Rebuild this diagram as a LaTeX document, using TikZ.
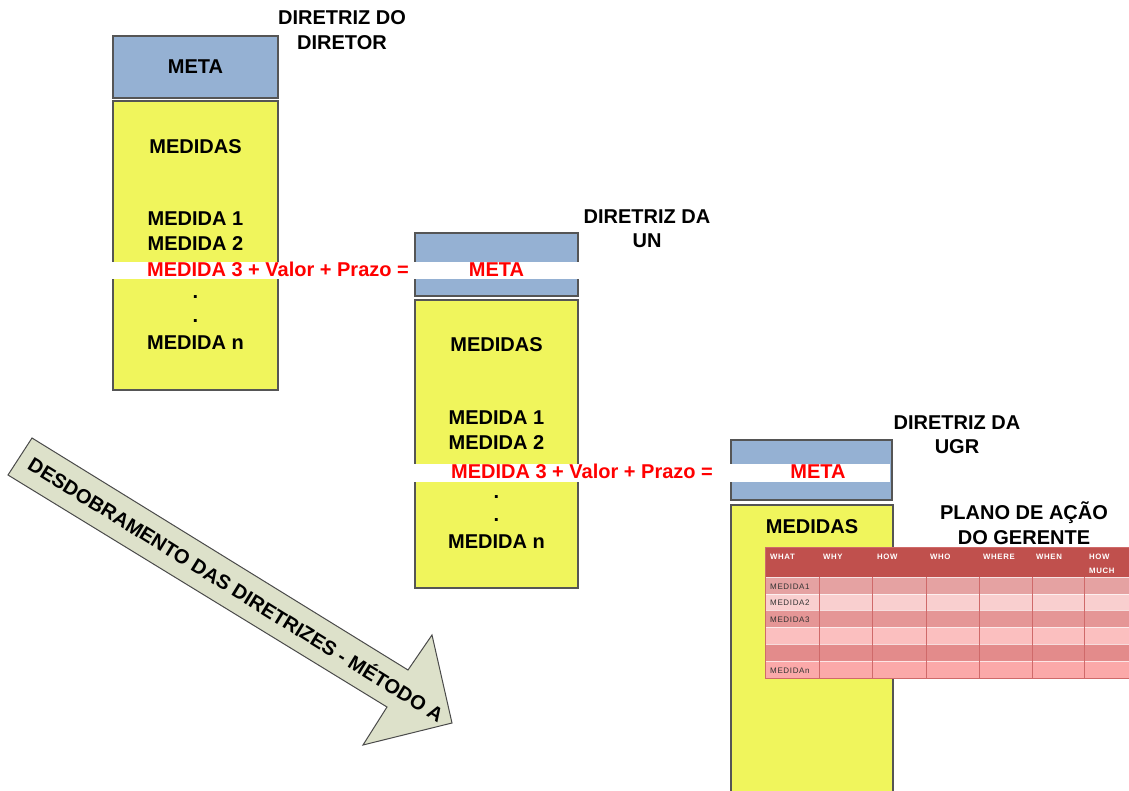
\documentclass[tikz,border=0pt]{standalone}
\usepackage{fontspec}
\setmainfont{Liberation Sans}
\newfontfamily\tabfont[LetterSpace=8]{Liberation Sans}
\newcommand\mybig{\fontsize{20}{24}\selectfont\bfseries}
\definecolor{metablue}{HTML}{95B1D3}
\definecolor{medyellow}{HTML}{F0F55C}
\definecolor{boxline}{HTML}{555555}
\definecolor{arrowfill}{HTML}{DDE1CA}
\definecolor{arrowline}{HTML}{4A4A4A}
\definecolor{hdrred}{HTML}{C0504D}
\definecolor{rowA}{HTML}{E5A2A2}
\definecolor{rowB}{HTML}{F9CFCF}
\definecolor{rowC}{HTML}{E59696}
\definecolor{rowD}{HTML}{FBBFBF}
\definecolor{rowE}{HTML}{E38B8B}
\definecolor{rowF}{HTML}{FBA9A9}
\definecolor{gridred}{HTML}{CF6A6A}
\definecolor{tabtext}{HTML}{333333}
\begin{document}
\begin{tikzpicture}[x=1pt,y=-1pt,
  box/.style={draw=boxline, line width=1.3pt, rectangle, inner sep=0pt},
  metabox/.style={box, fill=metablue, font=\mybig},
  medbox/.style={box, fill=medyellow},
  lbl/.style={font=\mybig, inner sep=0pt, anchor=base},
  redlbl/.style={lbl, text=red},
  strip/.style={fill=white, draw=none},
  arrowshape/.style={draw=arrowline, line width=1pt, fill=arrowfill, line join=miter},
  hdr/.style={font=\tabfont\fontsize{7.8}{9}\selectfont\bfseries, text=white, inner sep=0pt, anchor=base west},
  cell/.style={font=\tabfont\fontsize{8}{9}\selectfont, text=tabtext, inner sep=0pt, anchor=base west}
]
\useasboundingbox (0,0) rectangle (1129,791);
\clip (0,0) rectangle (1129,791);

% --- Diretriz do diretor ---
\node[metabox, minimum width=165pt, minimum height=62pt] (meta1) at (195.5,67) {META};
\node[medbox, minimum width=165pt, minimum height=289pt] (med1) at (195.5,245.5) {};

% --- Diretriz da UN ---
\node[metabox, minimum width=163pt, minimum height=63pt] (meta2) at (496.5,264.5) {};
\node[medbox, minimum width=163pt, minimum height=288pt] (med2) at (496.5,444) {};

% --- Diretriz da UGR ---
\node[metabox, minimum width=161pt, minimum height=60pt] (meta3) at (811.5,470) {};
\node[medbox, minimum width=162pt, minimum height=300pt] (med3) at (812,655) {};

% white bands carrying the "medida + valor + prazo = meta" lines
\fill[strip] (111,262) rectangle (579.5,279);
\fill[strip] (410,464) rectangle (890,482);

% titles
\node[lbl] (t1a) at (342,25) {DIRETRIZ DO};
\node[lbl] (t1b) at (342,50) {DIRETOR};
\node[lbl] (t2a) at (647,224) {DIRETRIZ DA};
\node[lbl] (t2b) at (647,248) {UN};
\node[lbl] (t3a) at (957,429) {DIRETRIZ DA};
\node[lbl] (t3b) at (957,453) {UGR};
\node[lbl] (t4a) at (1024,519) {PLANO DE AÇÃO};
\node[lbl] (t4b) at (1024,544) {DO GERENTE};

% contents of the first column
\node[lbl] (m1s) at (195.5,154) {MEDIDAS};
\node[lbl] (m1a) at (195.5,226) {MEDIDA 1};
\node[lbl] (m1b) at (195.5,251) {MEDIDA 2};
\node[redlbl] (m1c) at (278,277) {MEDIDA 3 + Valor + Prazo =};
\node[lbl] (m1d) at (195.5,299) {.};
\node[lbl] (m1e) at (195.5,323) {.};
\node[lbl] (m1n) at (195.5,349) {MEDIDA n};
\node[redlbl] (g2) at (496.5,277) {META};

% contents of the second column
\node[lbl] (m2s) at (496.5,352) {MEDIDAS};
\node[lbl] (m2a) at (496.5,424) {MEDIDA 1};
\node[lbl] (m2b) at (496.5,449) {MEDIDA 2};
\node[redlbl] (m2c) at (582,478) {MEDIDA 3 + Valor + Prazo =};
\node[lbl] (m2d) at (496.5,498) {.};
\node[lbl] (m2e) at (496.5,521) {.};
\node[lbl] (m2n) at (496.5,548) {MEDIDA n};
\node[redlbl] (g3) at (818,478) {META};

% contents of the third column
\node[lbl] (m3s) at (812,533) {MEDIDAS};

% --- action plan table ---
\fill[hdrred] (765,547) rectangle (1140,577);
\fill[rowA] (765,577) rectangle (1140,594);
\fill[rowB] (765,594) rectangle (1140,610);
\fill[rowC] (765,610) rectangle (1140,627);
\fill[rowD] (765,627) rectangle (1140,644);
\fill[rowE] (765,644) rectangle (1140,661);
\fill[rowF] (765,661) rectangle (1140,678);
\foreach \yy in {577,594,610,627,644,661}
  \draw[white, opacity=0.7, line width=0.8pt] (765,\yy) -- (1140,\yy);
\foreach \xx in {819,872,926,979,1032,1084}
  \draw[gridred, line width=0.8pt] (\xx,577) -- (\xx,678);
\draw[gridred, line width=0.6pt] (765,547) rectangle (1140,678);

\node[hdr] (hwhat) at (770,559) {WHAT};
\node[hdr] (hwhy) at (823,559) {WHY};
\node[hdr] (hhow) at (877,559) {HOW};
\node[hdr] (hwho) at (930,559) {WHO};
\node[hdr] (hwhere) at (983,559) {WHERE};
\node[hdr] (hwhen) at (1036,559) {WHEN};
\node[hdr] (hmuch1) at (1089,559) {HOW};
\node[hdr] (hmuch2) at (1089,573) {MUCH};
\node[cell] (r1) at (770,589) {MEDIDA1};
\node[cell] (r2) at (770,605) {MEDIDA2};
\node[cell] (r3) at (770,622) {MEDIDA3};
\node[cell] (rn) at (770,673) {MEDIDAn};

% --- unfolding arrow ---
\draw[arrowshape] (32,438) -- (408,670) -- (432,635) -- (452,723)
  -- (363,745) -- (387,707) -- (8,475) -- cycle;
\node[font=\mybig, inner sep=0pt, text height=14.3pt, text depth=0pt, rotate=-31.7]
  (arrowtext) at (236,590) {DESDOBRAMENTO DAS DIRETRIZES - MÉTODO A};
\end{tikzpicture}
\end{document}
